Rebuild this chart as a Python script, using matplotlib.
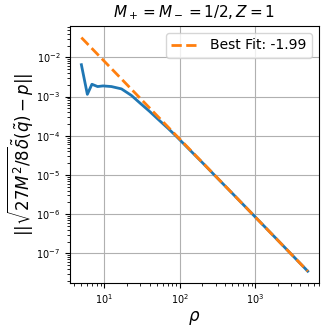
import matplotlib
matplotlib.use("Agg")
import matplotlib.pyplot as plt

# datos
rho = [5.0, 6.0, 6.9, 8.2, 9.7, 12.5, 17.0, 23.0, 30.0, 40.0, 55.0, 70.0,
       90.0, 120.0, 160.0, 200.0, 300.0, 500.0, 1000.0, 2000.0, 5000.0]
error = [6.5e-3, 1.14e-3, 2.06e-3, 1.80e-3, 1.87e-3, 1.80e-3, 1.57e-3, 1.07e-3,
         6.8e-4, 4.2e-4, 2.38e-4, 1.56e-4, 9.8e-5, 5.6e-5, 3.2e-5, 2.08e-5,
         9.3e-6, 3.4e-6, 8.6e-7, 2.17e-7, 3.5e-8]

# recta de ajuste (extremos)
fit_rho = [5.0, 5000.0]
fit_vals = [3.2e-2, 3.5e-8]
fit_label = "Best Fit: -1.99"

fig, ax = plt.subplots(figsize=(3.32, 3.32), dpi=100)
ax.plot(rho, error, color="tab:blue", lw=2)
ax.plot(fit_rho, fit_vals, color="tab:orange", lw=2, ls="--", label=fit_label)
ax.set_xscale("log")
ax.set_yscale("log")
ax.grid(True, which="major", color="#b0b0b0", lw=0.8)
ax.tick_params(labelsize=7)
ax.set_xlabel(r"$\rho$", fontsize=12, labelpad=2)
ax.set_ylabel(r"$||\sqrt{27M^2/8}\tilde{\delta}(\tilde{q}) - p||$", fontsize=12, labelpad=1)
ax.set_title(r"$M_+ = M_- = 1/2, Z = 1$", fontsize=11)
ax.legend(loc="upper right", fontsize=10)
fig.subplots_adjust(left=0.211, right=0.961, top=0.922, bottom=0.148)
fig.savefig("out.png", dpi=100)
